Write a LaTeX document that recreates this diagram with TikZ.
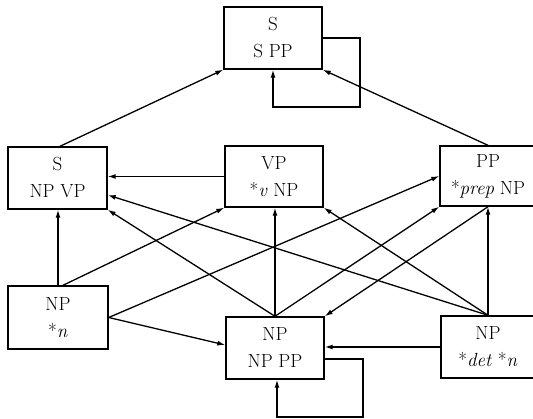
\documentclass[tikz,border=0pt]{standalone}
\usepackage{fontspec}
\usetikzlibrary{arrows.meta}
\begin{document}
\begin{tikzpicture}[x=1pt,y=-1pt,
  rulebox/.style={draw,line width=1.4pt,inner sep=0pt,align=center,
    font=\fontsize{19}{27}\selectfont},
  arr/.style={line width=1.3pt,-{Latex[length=8pt,width=5pt]}}]
\useasboundingbox (0,0) rectangle (533,419);
\node[rulebox,minimum width=98pt,minimum height=62pt] (ss) at (273,38) {S\\S PP};
\node[rulebox,minimum width=99pt,minimum height=62pt] (snv) at (57.5,178) {S\\NP VP};
\node[rulebox,minimum width=98pt,minimum height=61pt] (vp) at (274,176.5) {VP\\*\textit{v} NP};
\node[rulebox,minimum width=96pt,minimum height=60pt] (pp) at (488,176) {PP\\*\textit{prep} NP};
\node[rulebox,minimum width=100pt,minimum height=63pt] (nn) at (58,317.5) {NP\\*\textit{n}};
\node[rulebox,minimum width=98pt,minimum height=62pt] (npp) at (275,348) {NP\\NP PP};
\node[rulebox,minimum width=94pt,minimum height=62pt] (npd) at (488,347) {NP\\*\textit{det} *\textit{n}};
\coordinate (loopA) at (360,107);
\coordinate (loopB) at (363,417);
% connectors
\draw[arr] ([xshift=2.5pt]snv.north) -- (ss.south west);
\draw[arr] (pp.north) -- (ss.south east);
\draw[arr] (ss.east) -| (loopA) -| (ss.south);
\draw[arr] (vp.west) -- (vp.west -| snv.east);
\draw[arr] (npd.north) -- ([yshift=-17pt]snv.east);
\draw[arr] (npp.north) -- (snv.south east);
\draw[arr] (nn.north) -- (nn.north |- snv.south);
\draw[arr] ([xshift=5pt]nn.north) -- (vp.south west);
\draw[arr] (nn.east) -- (pp.west);
\draw[arr] (nn.east) -- ([yshift=3pt]npp.west);
\draw[arr] (npp.north) -- (npp.north |- vp.south);
\draw[arr] (npd.north) -- (vp.south east);
\draw[arr] (npp.north) -- (pp.south west);
\draw[arr] (npd.north) -- (npd.north |- pp.south);
\draw[arr] (npd.north |- pp.south) -- (npp.north east);
\draw[arr] (npd.west) -- (npd.west -| npp.east);
\draw[arr] ([yshift=-11pt]npp.east) -| (loopB) -| ([xshift=2pt]npp.south);
\end{tikzpicture}
\end{document}
